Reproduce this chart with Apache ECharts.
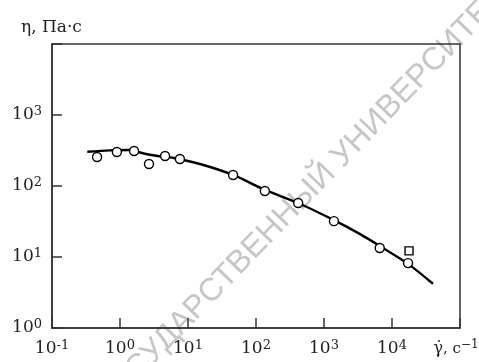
<!DOCTYPE html>
<html>
<head>
<meta charset="utf-8">
<script src="https://cdn.jsdelivr.net/npm/echarts@6/dist/echarts.min.js"></script>
<style>
  html, body { margin: 0; padding: 0; background: #fff; }
  #chart { width: 479px; height: 362px; }
</style>
</head>
<body>
<div id="chart"></div>
<script>
// Measured viscosity vs shear rate (open circles)
const shearRate = [0.46, 0.90, 1.61, 2.67, 4.6, 7.6, 46, 135, 417, 1400, 6600, 17200];
const viscosity = [256, 301, 311, 204, 265, 240, 143, 85, 57.6, 32, 13.4, 8.2];

// Single point drawn with a square marker
const squareRate = [17800];
const squareViscosity = [12.2];

// Flow curve drawn through the data
const curveRate = [0.33, 0.71, 1.4, 2.1, 3.4, 6.2, 15, 46, 135, 417, 1400, 3400, 6600, 17200, 40000];
const curveViscosity = [304, 318, 321, 292, 267, 248, 204, 143, 88, 57.6, 33, 21, 14.3, 8.0, 4.2];

// Decade exponents that carry a label on each axis
const xTickExponents = [-1, 0, 1, 2, 3, 4];
const yTickExponents = [0, 1, 2, 3];

const yTitle = 'η, Па·с';
const xTitle = '{g|γ̇}{t|, c}{u|−1}';
const watermark = 'ГОСУДАРСТВЕННЫЙ УНИВЕРСИТЕТ';

const serif = '"DejaVu Serif", "Liberation Serif", serif';
const ink = '#222';

const pairs = (xs, ys) => xs.map((x, i) => [x, ys[i]]);
const powerLabel = e => '{m|10}{s|' + (e < 0 ? '-' + (-e) : e) + '}';

const richStyles = {
  m: { fontSize: 17, fontFamily: serif, color: ink, lineHeight: 20 },
  s: { fontSize: 13, fontFamily: serif, color: ink, lineHeight: 13, verticalAlign: 'top' },
  g: { fontSize: 16, fontFamily: serif, color: ink, lineHeight: 20 },
  t: { fontSize: 15, fontFamily: serif, color: ink, lineHeight: 20 },
  u: { fontSize: 12, fontFamily: serif, color: ink, lineHeight: 12, verticalAlign: 'top', padding: [0, 8, 0, 0] }
};

const chart = echarts.init(document.getElementById('chart'), null, { renderer: 'canvas' });

chart.setOption({
  animation: false,
  backgroundColor: '#fff',
  title: {
    text: yTitle,
    left: 16,
    top: 14,
    textStyle: { fontFamily: serif, fontSize: 17, fontWeight: 'normal', color: ink }
  },
  graphic: [{
    type: 'text',
    x: 302,
    y: 198,
    rotation: 46 * Math.PI / 180,
    z: -10,
    silent: true,
    style: {
      text: watermark,
      fill: '#c6c6c6',
      font: '32px "Liberation Sans", Arial, sans-serif',
      align: 'center',
      verticalAlign: 'middle'
    }
  }],
  grid: {
    left: 52, top: 44, right: 19, bottom: 34,
    containLabel: false,
    outerBoundsMode: 'none',
    show: true,
    borderColor: '#333',
    borderWidth: 1.5,
    backgroundColor: 'transparent'
  },
  xAxis: {
    type: 'log',
    logBase: 10,
    min: 0.1,
    max: 1e5,
    axisLine: { show: true, lineStyle: { color: '#333', width: 1.5 } },
    axisTick: { show: true, inside: true, length: 10, lineStyle: { color: '#333', width: 1.5 } },
    splitLine: { show: false },
    minorTick: { show: false },
    axisLabel: {
      margin: 11,
      showMinLabel: true,
      showMaxLabel: true,
      formatter: v => {
        const e = Math.round(Math.log10(v));
        if (e === 5) return xTitle;
        return xTickExponents.includes(e) ? powerLabel(e) : '';
      },
      rich: richStyles
    }
  },
  yAxis: {
    type: 'log',
    logBase: 10,
    min: 1,
    max: 1e4,
    axisLine: { show: true, lineStyle: { color: '#333', width: 1.5 } },
    axisTick: { show: true, inside: true, length: 10, lineStyle: { color: '#333', width: 1.5 } },
    splitLine: { show: false },
    axisLabel: {
      margin: 10,
      showMinLabel: true,
      showMaxLabel: true,
      formatter: v => {
        const e = Math.round(Math.log10(v));
        return yTickExponents.includes(e) ? powerLabel(e) : '';
      },
      rich: richStyles
    }
  },
  series: [
    {
      type: 'line',
      data: pairs(curveRate, curveViscosity),
      smooth: 0.3,
      showSymbol: false,
      lineStyle: { color: '#000', width: 2.4 },
      z: 2
    },
    {
      type: 'scatter',
      data: pairs(shearRate, viscosity),
      symbol: 'circle',
      symbolSize: 9,
      itemStyle: { color: '#fff', borderColor: '#000', borderWidth: 1.4, opacity: 1 },
      z: 3
    },
    {
      type: 'scatter',
      data: pairs(squareRate, squareViscosity),
      symbol: 'rect',
      symbolSize: 8,
      itemStyle: { color: '#fff', borderColor: '#000', borderWidth: 1.4, opacity: 1 },
      z: 3
    }
  ]
});
</script>
</body>
</html>
